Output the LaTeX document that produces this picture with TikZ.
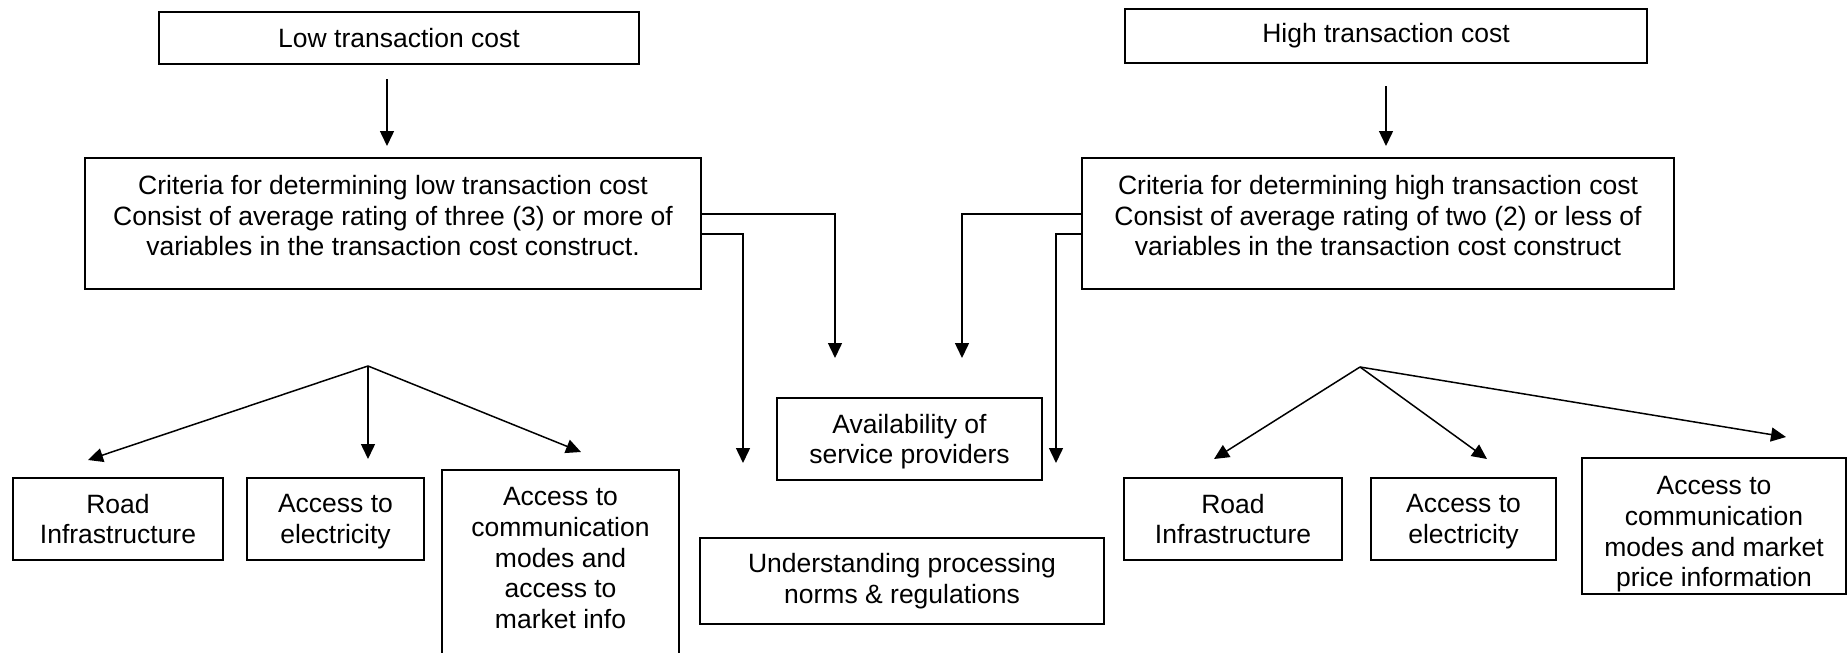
\documentclass[tikz,border=0pt]{standalone}
\usepackage{fontspec}
\setmainfont{Liberation Sans}
\usetikzlibrary{arrows.meta}
\newcommand{\nodepth}[1]{\raisebox{0pt}[\height][0pt]{#1}}
\begin{document}
\begin{tikzpicture}[x=0.5pt, y=-0.5pt, every node/.style = {shape=rectangle, draw, line width=1pt, inner sep=0pt, align=center, font=\fontsize{13.25}{15.3}\selectfont}]
			\tikzset{ arr/.style = {line width=0.75pt, -{Triangle[length=7.5pt, width=7pt]}} }
			\path[use as bounding box, clip] (0,0) rectangle (1847,653);
			\node (lowtop) [minimum width=240pt, minimum height=26pt] at (399,38) {Low transaction cost};
			\node (hightop) [minimum width=261pt, minimum height=27pt] at (1386,36) {High transaction cost};
			\node (critlow) [minimum width=308pt, minimum height=65.5pt] at (393,223.5)
				{Criteria for determining low transaction cost\\Consist of average rating of three (3) or more of\\variables in the transaction cost construct.\rule[-8pt]{0pt}{8pt}};
			\node (crithigh) [minimum width=296pt, minimum height=65.5pt] at (1378,223.5)
				{Criteria for determining high transaction cost\\Consist of average rating of two (2) or less of\\variables in the transaction cost construct\rule[-8pt]{0pt}{8pt}};
			\node (avail) [minimum width=132.5pt, minimum height=41pt] at (909.5,439) {Availability of\\\nodepth{service providers}};
			\node (underst) [minimum width=202pt, minimum height=43pt] at (902,581) {Understanding processing\\norms \& regulations};
			\node (roadlow) [minimum width=105pt, minimum height=41pt] at (118,519) {Road\\Infrastructure};
			\node (eleclow) [minimum width=88.5pt, minimum height=41pt] at (335.5,519) {Access to\\\nodepth{electricity}};
			\node (commlow) [minimum width=118.5pt, minimum height=115pt, anchor=north] at (560.5,469)
				{Access to\\communication\\modes and\\access to\\market info\rule[-27pt]{0pt}{27pt}};
			\node (roadhigh) [minimum width=109pt, minimum height=41pt] at (1233,519) {Road\\Infrastructure};
			\node (elechigh) [minimum width=92.5pt, minimum height=41pt] at (1463.5,519) {Access to\\\nodepth{electricity}};
			\node (commhigh) [minimum width=132pt, minimum height=68pt] at (1714,526)
				{\rule{0pt}{17.5pt}Access to\\communication\\modes and market\\price information};
			\coordinate (lowarr) at ([xshift=-6pt]lowtop.south);
			\draw[arr, shorten <=7pt, shorten >=5.5pt] (lowarr) -- (lowarr |- critlow.north);
			\draw[arr, shorten <=11pt, shorten >=5.5pt] (hightop.south) -- (hightop.south |- crithigh.north);
			\coordinate (availlow) at (835,358);
			\coordinate (understlow) at (743,463);
			\coordinate (availhigh) at (962,358);
			\coordinate (understhigh) at (1056,463);
			\draw[arr] (critlow.east) ++(0,-9.5) -| (availlow);
			\draw[arr] (critlow.east) ++(0,10.5) -| (understlow);
			\draw[arr] (crithigh.west) ++(0,-9.5) -| (availhigh);
			\draw[arr] (crithigh.west) ++(0,10.5) -| (understhigh);
			\coordinate (fanlow) at (368,366);
			\coordinate (roadlowtip) at (88,460);
			\coordinate (eleclowtip) at (368,459);
			\coordinate (commlowtip) at (581,452);
			\draw[arr] (fanlow) -- (roadlowtip);
			\draw[arr] (fanlow) -- (eleclowtip);
			\draw[arr] (fanlow) -- (commlowtip);
			\coordinate (fanhigh) at (1360,367);
			\coordinate (roadhightip) at (1214,459);
			\coordinate (elechightip) at (1487,459);
			\coordinate (commhightip) at (1786,437);
			\draw[arr] (fanhigh) -- (roadhightip);
			\draw[arr] (fanhigh) -- (elechightip);
			\draw[arr] (fanhigh) -- (commhightip);
		\end{tikzpicture}
\end{document}
